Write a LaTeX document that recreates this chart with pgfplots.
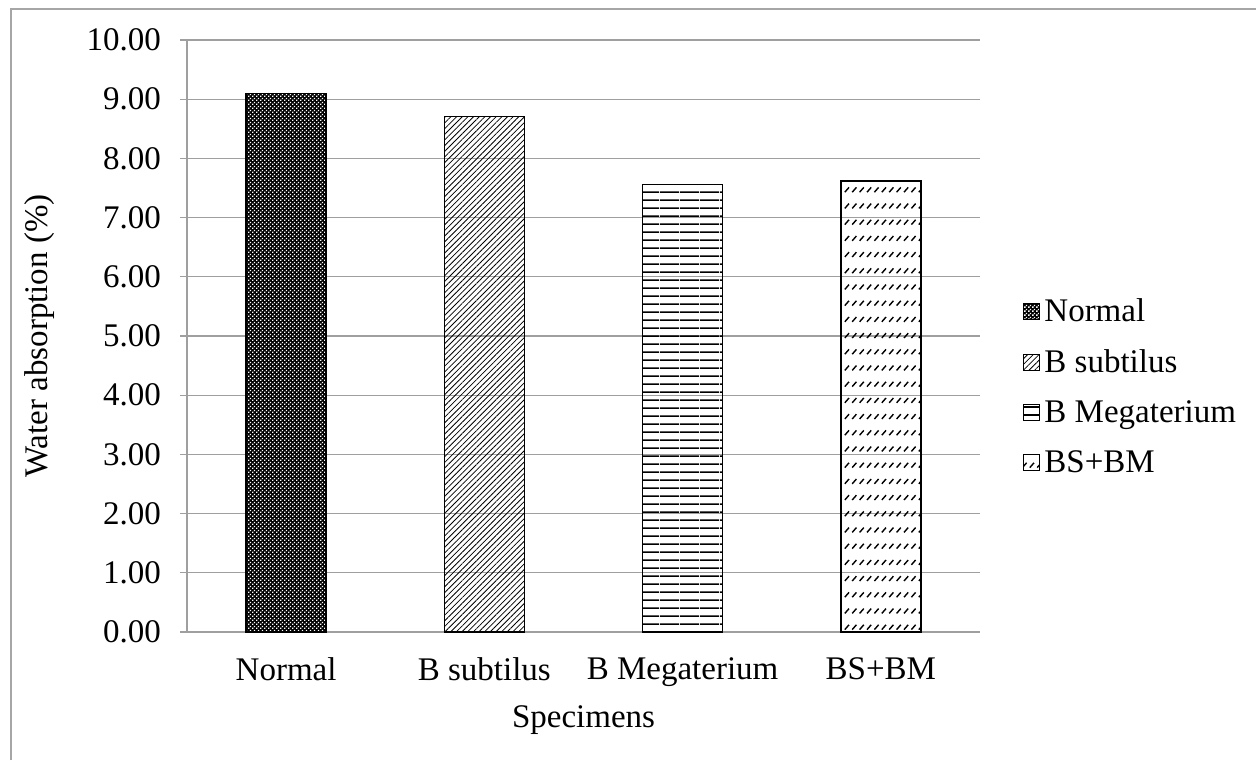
\documentclass[border=0pt]{standalone}
\usepackage{fontspec}
\setmainfont{Liberation Serif}
\usepackage{pgfplots}
\pgfplotsset{compat=1.18}
\usetikzlibrary{patterns,patterns.meta}
\pgfdeclarepatternformonly{checker}{\pgfpointorigin}{\pgfpoint{2pt}{2pt}}{\pgfpoint{2pt}{2pt}}{%
  \pgfpathrectangle{\pgfpoint{0.1pt}{0.1pt}}{\pgfpoint{0.8pt}{0.8pt}}%
  \pgfpathrectangle{\pgfpoint{1.1pt}{1.1pt}}{\pgfpoint{0.8pt}{0.8pt}}%
  \pgfusepath{fill}}
\pgfdeclarepatternformonly{hlines}{\pgfpointorigin}{\pgfpoint{10pt}{4pt}}{\pgfpoint{10pt}{4pt}}{%
  \pgfpathrectangle{\pgfpoint{0pt}{0pt}}{\pgfpoint{10pt}{0.9pt}}%
  \pgfusepath{fill}}
\pgfdeclarepatternformonly{dashdiag}{\pgfpoint{-0.5pt}{-0.5pt}}{\pgfpoint{4.2pt}{8.6pt}}{\pgfpoint{3.7pt}{8.1pt}}{%
  \pgfsetlinewidth{0.7pt}%
  \pgfpathmoveto{\pgfpoint{0.6pt}{0.4pt}}%
  \pgfpathlineto{\pgfpoint{2.7pt}{2.8pt}}%
  \pgfusepath{stroke}}
\begin{document}
\begin{tikzpicture}
\useasboundingbox (0,0) rectangle (628pt,380pt);
\draw[gray!70, line width=0.75pt] (5.5pt,0) -- (5.5pt,375.5pt) -- (628pt,375.5pt);
\begin{axis}[
  at={(93.5pt,64pt)}, anchor=south west,
  scale only axis, width=396.5pt, height=296pt,
  font=\fontsize{16.5}{19}\selectfont,
  ymin=0, ymax=10, ytick={0,1,...,10},
  xmin=-0.5, xmax=3.5, xtick={0,1,2,3},
  xticklabels={Normal, B subtilus, B Megaterium, BS+BM},
  x tick label style={yshift=-6pt},
  /pgf/number format/fixed, /pgf/number format/fixed zerofill, /pgf/number format/precision=2,
  /pgf/number format/assume math mode=true,
  yticklabel style={xshift=-6pt},
  axis x line=bottom, axis y line=left,
  axis line style={-, draw=gray!75, line width=0.6pt},
  ymajorgrids, grid style={gray!75, line width=0.6pt},
  major tick length=3.5pt,
  xtick style={draw=none},
  ytick style={draw=gray!75, line width=0.6pt},
  tick align=outside,
  ylabel={Water absorption (\%)},
  ylabel style={at={(axis description cs:-0.1854,0.5)}, anchor=center, rotate=0},
  xlabel={Specimens},
  xlabel style={at={(axis description cs:0.5,-0.1495)}, anchor=center},
  ybar, bar width=40pt, bar shift=0pt,
  legend style={at={(axis description cs:1.054,0.414)}, anchor=west, draw=none, fill=none,
    font=\fontsize{16.5}{19}\selectfont, row sep=12.5pt, inner sep=0pt,
    nodes={inner xsep=2pt, inner ysep=0pt}},
  legend cell align=left,
  legend image code/.code={\draw[#1, line width=0.6pt] (0pt,-4pt) rectangle (8pt,4pt);},
]
\addplot[draw=black, line width=0.75pt, fill=black, postaction={pattern=checker, pattern color=white}] coordinates {(0,9.10)};
\addplot[draw=black, line width=0.75pt, pattern={Lines[angle=45, distance=2pt, line width=0.4pt]}] coordinates {(1,8.71)};
\addplot[draw=black, line width=0.75pt, pattern=hlines] coordinates {(2,7.56)};
\addplot[draw=black, line width=0.75pt, pattern=dashdiag] coordinates {(3,7.62)};
\legend{Normal, B subtilus, B Megaterium, BS+BM}
\end{axis}
\end{tikzpicture}
\end{document}
